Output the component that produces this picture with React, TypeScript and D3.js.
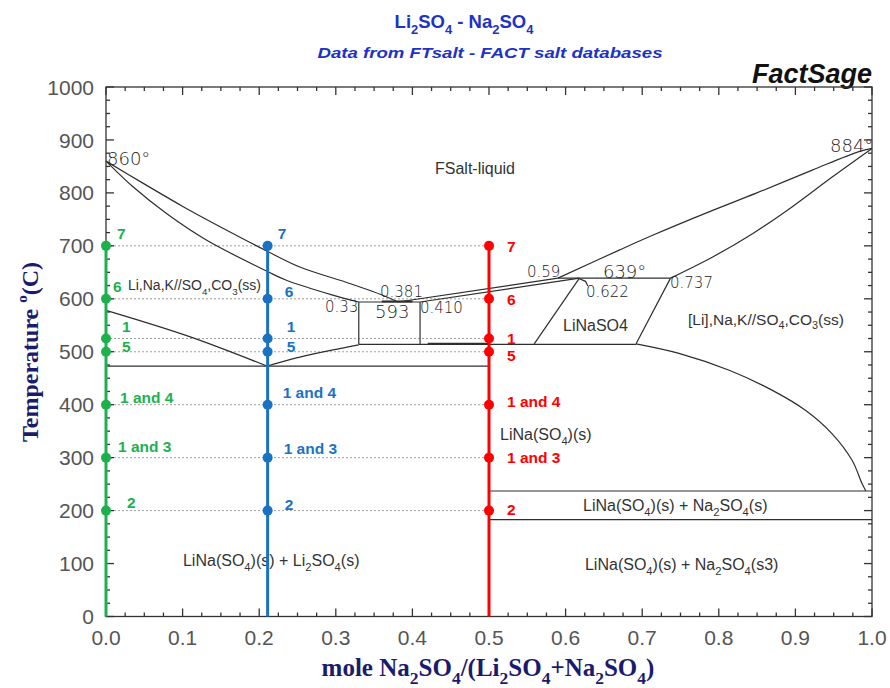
import React from 'react';
import * as d3 from 'd3';

type Pt = [number, number];

// phase boundaries: [mole fraction Na2SO4, T (°C)]
const liquidusLeft: Pt[] = [[0, 860], [0.0487, 818], [0.1008, 774], [0.157, 730], [0.2116, 689], [0.253, 660], [0.318, 629], [0.366, 604], [0.381, 594]];
const solidusLeft: Pt[] = [[0, 860], [0.0356, 811], [0.079, 761], [0.131, 711], [0.2116, 651], [0.2356, 635], [0.296, 607], [0.33, 594]];
const liquidusMid: Pt[] = [[0.381, 594], [0.59, 639]];
const solidusMid: Pt[] = [[0.41, 594], [0.618, 639]];
const liquidusRight: Pt[] = [[0.59, 639], [0.67, 692], [0.7136, 720], [0.792, 767], [0.848, 799], [0.922, 843], [0.983, 878], [1, 884]];
const solidusRight: Pt[] = [[0.737, 639], [0.792, 679], [0.844, 723], [0.896, 774], [0.948, 830], [1, 884]];
const solvusLi: Pt[] = [[0, 578], [0.11, 528], [0.21, 473]];
const solvusLiB: Pt[] = [[0.21, 473], [0.253, 490], [0.305, 506], [0.33, 513]];
const solvusNa: Pt[] = [[0.692, 515], [0.748, 497], [0.8136, 465], [0.87, 427], [0.9135, 389], [0.948, 345], [0.974, 295], [0.987, 251], [0.992, 237]];
const lnsLeftEdge: Pt[] = [[0.559, 515], [0.618, 639]];
const lnsRightEdge: Pt[] = [[0.692, 515], [0.737, 639]];
const pointer622: Pt[] = [[0.618, 638], [0.626, 633], [0.629, 624]];

// invariant lines
const isoT = [594, 639, 514, 473, 237, 183];
const isoFrom = [0.33, 0.59, 0.33, 0, 0.5, 0.5];
const isoTo = [0.41, 0.737, 0.692, 0.5, 1, 1];
const boxX = [0.33, 0.41];
const boxTop = 594;
const boxBottom = 514;

// cooling paths
const pathX = [0, 0.211, 0.5];
const pathColors = ['#1db14e', '#1a72c4', '#ff0000'];
const markT = [700, 600, 525, 500, 400, 300, 200];
const markLabels = ['7', '6', '1', '5', '1 and 4', '1 and 3', '2'];

const xTicks = [0, 0.1, 0.2, 0.3, 0.4, 0.5, 0.6, 0.7, 0.8, 0.9, 1.0];
const yTicks = [0, 100, 200, 300, 400, 500, 600, 700, 800, 900, 1000];

const W = 890;
const H = 688;
const x = d3.scaleLinear().domain([0, 1]).range([106, 872]);
const y = d3.scaleLinear().domain([0, 1000]).range([616.5, 87]);
const line = d3.line<Pt>().x(d => x(d[0])).y(d => y(d[1])).curve(d3.curveCatmullRom.alpha(0.5));
const straight = d3.line<Pt>().x(d => x(d[0])).y(d => y(d[1]));

// "_4" -> subscript
function chem(s: string, size: number) {
  const segs: { t: string; sub: boolean }[] = [];
  for (let i = 0; i < s.length; i++) {
    if (s[i] === '_' && i + 1 < s.length) {
      segs.push({ t: s[i + 1], sub: true });
      i++;
    } else {
      const last = segs[segs.length - 1];
      if (last && !last.sub) last.t += s[i];
      else segs.push({ t: s[i], sub: false });
    }
  }
  const shift = size * 0.3;
  let prev = false;
  return segs.map((g, i) => {
    const dy = g.sub === prev ? 0 : g.sub ? shift : -shift;
    prev = g.sub;
    return (
      <tspan key={i} dy={dy} fontSize={g.sub ? size * 0.7 : size}>{g.t}</tspan>
    );
  });
}

// annotation layout (data coords of text start)
const arialLabels = [
  { s: 'FSalt-liquid', at: [0.4295, 836] as Pt, size: 16 },
  { s: 'Li,Na,K//SO_4,CO_3(ss)', at: [0.0287, 616] as Pt, size: 14 },
  { s: '[Li],Na,K//SO_4,CO_3(ss)', at: [0.7598, 551] as Pt, size: 15.5 },
  { s: 'LiNaSO4', at: [0.5966, 539] as Pt, size: 16 },
  { s: 'LiNa(SO_4)(s)', at: [0.5144, 333] as Pt, size: 16 },
  { s: 'LiNa(SO_4)(s) + Na_2SO_4(s)', at: [0.6227, 199] as Pt, size: 16 },
  { s: 'LiNa(SO_4)(s) + Na_2SO_4(s3)', at: [0.6253, 88] as Pt, size: 16 },
  { s: 'LiNa(SO_4)(s) + Li_2SO_4(s)', at: [0.1005, 95] as Pt, size: 16 },
];
const numLabels = [
  { s: '860°', at: [0.0013, 853] as Pt, size: 18 },
  { s: '884°', at: [0.9452, 877] as Pt, size: 18 },
  { s: '0.381', at: [0.3577, 603] as Pt, size: 15 },
  { s: '0.33', at: [0.2859, 575] as Pt, size: 15 },
  { s: '593', at: [0.3512, 564] as Pt, size: 18 },
  { s: '0.410', at: [0.4099, 573] as Pt, size: 15 },
  { s: '0.59', at: [0.5496, 641] as Pt, size: 15 },
  { s: '639°', at: [0.6488, 639] as Pt, size: 18 },
  { s: '0.622', at: [0.6266, 603] as Pt, size: 15 },
  { s: '0.737', at: [0.7363, 620] as Pt, size: 15 },
];

// label offsets (px) relative to each marker, per path
const labelDx = [
  [11, 7, 16, 16, 14, 12, 21],
  [10, 17, 19, 19, 15, 16, 17],
  [18, 18, 18, 18, 18, 18, 18],
];
const labelDy = [
  [-12, -12.6, -12, -5.5, -7.4, -11, -8],
  [-12, -7.6, -12, -5.5, -12, -9.5, -6],
  [1, 1, 0, 3.5, -3, 0, -1],
];

const App: React.FC = () => {
  const minorX = d3.range(0, 1.0001, 0.025);
  const minorY = d3.range(0, 1001, 25);
  const x0 = x(0), x1 = x(1), y0 = y(0), y1 = y(1000);
  const curves = [liquidusLeft, solidusLeft, liquidusRight, solidusRight, solvusLi, solvusLiB, solvusNa];
  const straights = [liquidusMid, solidusMid, lnsLeftEdge, lnsRightEdge, pointer622];

  return (
    <svg width={W} height={H} style={{ position: 'absolute', left: 0, top: 0, background: '#fff' }} fontFamily="Arial, 'Liberation Sans', sans-serif">
      {/* titles */}
      <text x={464} y={28} textAnchor="middle" fontSize={18.5} fontWeight="bold" fill="#1d32c6">{chem('Li_2SO_4 - Na_2SO_4', 18.5)}</text>
      <text x={490} y={58} textAnchor="middle" fontSize={15.5} fontWeight="bold" fontStyle="italic" fill="#1d32c6" textLength={345} lengthAdjust="spacingAndGlyphs">Data from FTsalt - FACT salt databases</text>
      <text x={872} y={83} textAnchor="end" fontSize={27} fontWeight="bold" fontStyle="italic" fill="#111">FactSage</text>

      {/* dashed guide lines */}
      {markT.map(t => (
        <line key={'g' + t} x1={x(0)} x2={x(0.5)} y1={y(t)} y2={y(t)} stroke="#888" strokeWidth={0.8} strokeDasharray="2,2" />
      ))}

      {/* phase boundaries */}
      <g fill="none" stroke="#2e2e2e" strokeWidth={1.2}>
        {curves.map((c, i) => <path key={'c' + i} d={line(c) || ''} />)}
        {straights.map((c, i) => <path key={'s' + i} d={straight(c) || ''} />)}
        {isoT.map((t, i) => (
          <line key={'i' + i} x1={x(isoFrom[i])} x2={x(isoTo[i])} y1={y(t)} y2={y(t)} />
        ))}
        {boxX.map(v => <line key={'b' + v} x1={x(v)} x2={x(v)} y1={y(boxTop)} y2={y(boxBottom)} />)}
        <line x1={x(0.42)} x2={x(0.5)} y1={y(516)} y2={y(516)} />
        <line x1={x(0.36)} x2={x(0.4)} y1={y(595)} y2={y(595)} strokeWidth={2} />
      </g>

      {/* annotations */}
      <g fill="#333">
        {arialLabels.map(l => (
          <text key={l.s} x={x(l.at[0])} y={y(l.at[1])} fontSize={l.size}>{chem(l.s, l.size)}</text>
        ))}
      </g>
      <g fill="#222" fontFamily="'DejaVu Sans', sans-serif">
        {numLabels.map(l => (
          <text key={l.s} x={x(l.at[0])} y={y(l.at[1])} fontSize={l.size} fontWeight={300}>{l.s}</text>
        ))}
      </g>

      {/* frame and ticks */}
      <g stroke="#333" strokeWidth={1.3} fill="none">
        <rect x={x0} y={y1} width={x1 - x0} height={y0 - y1} />
        {minorX.map(v => {
          const major = Math.abs(v * 10 - Math.round(v * 10)) < 1e-6;
          const len = major ? 8 : 4;
          return (
            <g key={'mx' + v}>
              <line x1={x(v)} x2={x(v)} y1={y0} y2={y0 - len} />
              <line x1={x(v)} x2={x(v)} y1={y1} y2={y1 + len} />
            </g>
          );
        })}
        {minorY.map(v => {
          const len = v % 100 === 0 ? 8 : 4;
          return (
            <g key={'my' + v}>
              <line x1={x0} x2={x0 + len} y1={y(v)} y2={y(v)} />
              <line x1={x1} x2={x1 - len} y1={y(v)} y2={y(v)} />
            </g>
          );
        })}
      </g>
      <g fill="#555" fontSize={21}>
        {xTicks.map(v => (
          <text key={'xt' + v} x={x(v)} y={645} textAnchor="middle">{d3.format('.1f')(v)}</text>
        ))}
        {yTicks.map(v => (
          <text key={'yt' + v} x={94} y={y(v)} dy="0.36em" textAnchor="end">{v}</text>
        ))}
      </g>

      {/* axis titles */}
      <text x={488} y={676} textAnchor="middle" fontFamily="'Liberation Serif', 'Times New Roman', serif" fontWeight="bold" fontSize={25} fill="#1b1b6e">
        {chem('mole Na_2SO_4/(Li_2SO_4+Na_2SO_4)', 25)}
      </text>
      <text transform="translate(38,352) rotate(-90)" textAnchor="middle" fontFamily="'Liberation Serif', 'Times New Roman', serif" fontWeight="bold" fontSize={24} fill="#1b1b6e">
        Temperature <tspan dy={-11} fontSize={15}>o</tspan><tspan dy={11}>(C)</tspan>
      </text>

      {/* cooling paths */}
      {pathX.map((px, pi) => (
        <g key={'p' + pi} fill={pathColors[pi]}>
          <line x1={x(px)} x2={x(px)} y1={y(700)} y2={y(0)} stroke={pathColors[pi]} strokeWidth={3} />
          {markT.map((t, ti) => (
            <circle key={'d' + ti} cx={x(px)} cy={y(t)} r={5} />
          ))}
          {markLabels.map((lab, ti) => (
            <text key={'l' + ti} x={x(px) + labelDx[pi][ti]} y={y(markT[ti]) + labelDy[pi][ti]} dy="0.36em" fontSize={15.5} fontWeight="bold">{lab}</text>
          ))}
        </g>
      ))}
    </svg>
  );
};

export default App;
